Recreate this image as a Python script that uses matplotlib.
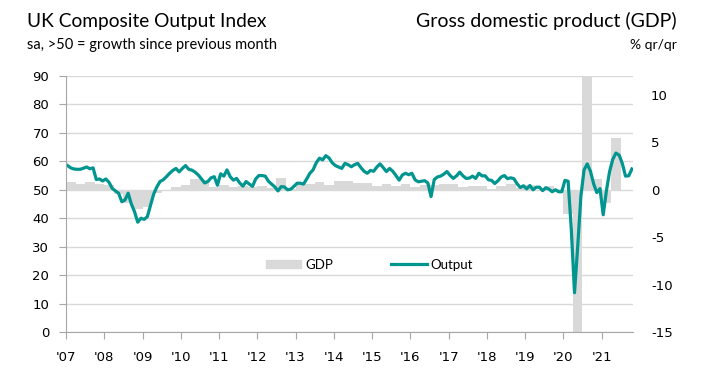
import numpy as np
import matplotlib
matplotlib.use("Agg")
import matplotlib.pyplot as plt
from matplotlib.patches import Patch
from matplotlib.lines import Line2D

plt.rcParams["axes.unicode_minus"] = False

# UK composite output PMI, monthly, Jan 2007 - Oct 2021
pmi = [
    58.5, 57.7, 57.3, 57.2, 57.2, 57.6, 58.0, 57.4, 57.7, 53.6, 53.8, 53.1,  # 2007
    53.8, 52.6, 50.5, 49.6, 48.8, 45.8, 46.4, 48.8, 45.0, 42.3, 38.6, 40.0,  # 2008
    39.6, 40.5, 44.5, 48.5, 51.0, 52.9, 53.5, 54.6, 55.8, 56.8, 57.5, 56.3,  # 2009
    57.5, 58.5, 57.2, 56.9, 56.2, 55.2, 53.8, 52.4, 52.9, 54.2, 54.6, 51.6,  # 2010
    55.6, 54.8, 57.0, 54.6, 53.4, 54.0, 52.4, 51.3, 52.9, 52.0, 51.2, 53.8,  # 2011
    55.0, 55.0, 54.8, 53.0, 52.0, 51.0, 49.6, 51.1, 51.0, 50.0, 50.2, 51.2,  # 2012
    52.3, 52.3, 52.0, 53.8, 55.8, 57.0, 59.5, 61.1, 60.5, 62.0, 61.2, 59.5,  # 2013
    58.5, 58.0, 57.5, 59.3, 58.8, 58.1, 58.8, 59.3, 57.8, 56.5, 55.8, 56.8,  # 2014
    56.5, 58.0, 59.1, 57.8, 56.4, 57.5, 56.5, 55.0, 53.4, 55.2, 55.8, 55.3,  # 2015
    55.8, 53.5, 52.8, 53.0, 53.2, 52.4, 47.6, 53.6, 54.5, 54.8, 55.5, 56.4,  # 2016
    55.0, 54.0, 54.9, 56.2, 54.9, 54.0, 54.1, 54.8, 54.0, 55.8, 54.9, 54.9,  # 2017
    53.5, 53.3, 52.2, 53.2, 54.5, 55.0, 53.9, 54.2, 53.9, 52.1, 50.8, 51.4,  # 2018
    50.3, 51.5, 50.0, 50.9, 50.9, 49.7, 50.7, 50.2, 49.3, 50.0, 49.3, 49.3,  # 2019
    53.3, 53.0, 36.0, 13.8, 30.0, 47.7, 57.0, 59.1, 56.5, 52.1, 49.0, 50.4,  # 2020
    41.2, 49.6, 56.4, 60.7, 62.9, 62.2, 59.2, 54.8, 54.9, 57.3,              # 2021
]

# GDP % q/q, 2007 Q1 - 2021 Q2
gdp = [
    0.8, 0.6, 0.8, 0.6,
    0.5, -0.4, -1.4, -2.0,
    -1.8, -0.3, 0.0, 0.3,
    0.5, 1.1, 1.0, 0.3,
    0.5, 0.3, 0.4, 0.3,
    0.4, 0.2, 1.2, 0.1,
    0.6, 0.6, 0.8, 0.5,
    0.9, 0.9, 0.7, 0.7,
    0.4, 0.6, 0.4, 0.6,
    0.3, 0.5, 0.5, 0.6,
    0.6, 0.3, 0.4, 0.4,
    0.1, 0.4, 0.6, 0.2,
    0.5, -0.1, 0.4, 0.1,
    -2.6, -19.5, 16.9, 1.1,
    -1.4, 5.5,
]

years = list(range(2007, 2022))
year_labels = ["'" + str(y)[2:] for y in years]

TEAL = "#00968f"
BAR = "#d9d9d9"
GRID = "#d9d9d9"
SPINE = "#a6a6a6"

pmi_x = 2007 + (np.arange(len(pmi)) + 0.5) / 12
gdp_x = 2007 + np.arange(len(gdp)) / 4

fig = plt.figure(figsize=(7.22, 3.77), dpi=100)
ax = fig.add_axes([0.0914, 0.1194, 0.7853, 0.679])
ax2 = ax.twinx()
ax.set_zorder(2)
ax2.set_zorder(1)
ax.patch.set_visible(False)

ax2.bar(gdp_x, gdp, width=0.25, align="edge", color=BAR, linewidth=0)
ax2.set_ylim(-15, 12)
ax2.set_yticks([-15, -10, -5, 0, 5, 10])
ax2.tick_params(axis="y", length=0, pad=13, labelsize=9.5)
for s in ax2.spines.values():
    s.set_visible(False)

ax.plot(pmi_x, pmi, color=TEAL, lw=2.3, solid_joinstyle="round")
ax.set_ylim(0, 90)
ax.set_yticks(range(0, 91, 10))
ax.set_xlim(2007, 2021.82)
ax.set_xticks(years)
ax.set_xticklabels(year_labels)
ax.grid(axis="y", color=GRID, lw=1)
ax.set_axisbelow(True)
ax.tick_params(axis="both", color=SPINE, length=5, labelsize=9.5)
ax.tick_params(axis="y", pad=7)
ax.tick_params(axis="x", pad=9)
for side in ["top", "right"]:
    ax.spines[side].set_visible(False)
for side in ["left", "bottom"]:
    ax.spines[side].set_color(SPINE)

handles = [Patch(color=BAR, label="GDP"), Line2D([], [], color=TEAL, lw=2.3, label="Output")]
ax.legend(handles=handles, loc="center", bbox_to_anchor=(0.535, 0.262), ncol=2,
          frameon=False, handlelength=2.7, handleheight=0.6, columnspacing=4.4,
          handletextpad=0.3, prop={"family": "Lato", "size": 9.5})

fig.text(27 / 722, 1 - 27 / 377, "UK Composite Output Index", family="Lato", size=13.8)
fig.text(27 / 722, 1 - 49 / 377, "sa, >50 = growth since previous month", family="Lato", size=10.5)
fig.text(677 / 722, 1 - 27 / 377, "Gross domestic product (GDP)", family="Lato", size=14, ha="right")
fig.text(677 / 722, 1 - 49 / 377, "% qr/qr", family="Lato", size=10, ha="right")

fig.savefig("out.png", dpi=100)
